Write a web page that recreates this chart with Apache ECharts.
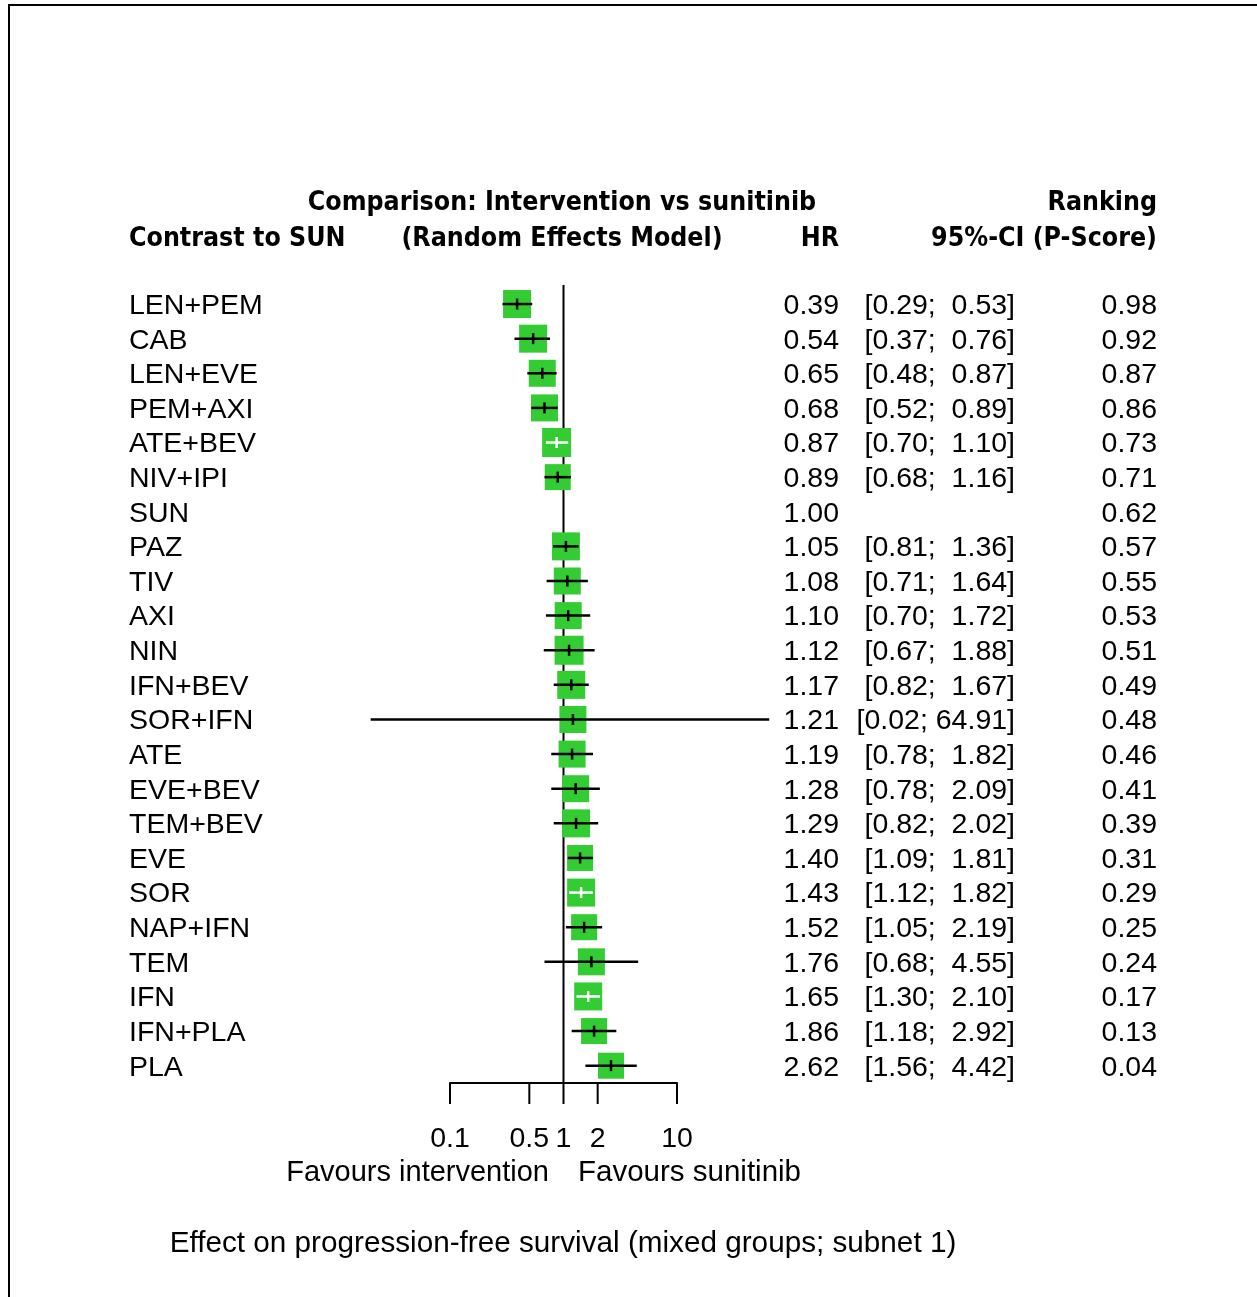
<!DOCTYPE html>
<html>
<head>
<meta charset="utf-8">
<script src="https://cdn.jsdelivr.net/npm/echarts@6/dist/echarts.min.js"></script>
<style>
  html, body { margin: 0; padding: 0; background: #fff; }
  #chart { width: 1257px; height: 1297px; }
</style>
</head>
<body>
<div id="chart"></div>
<script>
// Network meta-analysis: PFS hazard ratios of each treatment versus sunitinib
const treatments = ['LEN+PEM', 'CAB', 'LEN+EVE', 'PEM+AXI', 'ATE+BEV', 'NIV+IPI', 'SUN', 'PAZ', 'TIV', 'AXI',
  'NIN', 'IFN+BEV', 'SOR+IFN', 'ATE', 'EVE+BEV', 'TEM+BEV', 'EVE', 'SOR', 'NAP+IFN', 'TEM', 'IFN', 'IFN+PLA', 'PLA'];
const hazardRatio = [0.39, 0.54, 0.65, 0.68, 0.87, 0.89, 1.00, 1.05, 1.08, 1.10,
  1.12, 1.17, 1.21, 1.19, 1.28, 1.29, 1.40, 1.43, 1.52, 1.76, 1.65, 1.86, 2.62];
const ciLower = [0.29, 0.37, 0.48, 0.52, 0.70, 0.68, null, 0.81, 0.71, 0.70,
  0.67, 0.82, 0.02, 0.78, 0.78, 0.82, 1.09, 1.12, 1.05, 0.68, 1.30, 1.18, 1.56];
const ciUpper = [0.53, 0.76, 0.87, 0.89, 1.10, 1.16, null, 1.36, 1.64, 1.72,
  1.88, 1.67, 64.91, 1.82, 2.09, 2.02, 1.81, 1.82, 2.19, 4.55, 2.10, 2.92, 4.42];
const pScore = [0.98, 0.92, 0.87, 0.86, 0.73, 0.71, 0.62, 0.57, 0.55, 0.53,
  0.51, 0.49, 0.48, 0.46, 0.41, 0.39, 0.31, 0.29, 0.25, 0.24, 0.17, 0.13, 0.04];
// relative weight of each comparison (square size)
const weights = [28, 28, 27, 27, 29, 26, null, 28, 27, 27,
  29, 28, 27, 27, 27, 28, 26, 28, 26, 27, 28, 26, 26];
// comparisons whose interval lies entirely inside the square
const ciInsideSquare = ['ATE+BEV', 'SOR', 'IFN'];
const axisTicks = [0.1, 0.5, 1, 2, 10];

const FONT = '"Liberation Sans", Arial, sans-serif';
const HEAD_FONT = '"DejaVu Sans Condensed", "Liberation Sans", sans-serif';
const HEAD = 'bold 26.5px ' + HEAD_FONT;
const BODY_SIZE = 28.5;
const GREEN = '#33cc33';

const fmt = v => v.toFixed(2);
const upperWidth = Math.max(...ciUpper.filter(v => v != null).map(v => fmt(v).length));
const ciText = i => {
  if (ciLower[i] == null) return '';
  let hi = fmt(ciUpper[i]);
  while (hi.length < upperWidth) hi = ' ' + hi;
  return '[' + fmt(ciLower[i]) + '; ' + hi + ']';
};

const forestData = [];
treatments.forEach((t, i) => {
  if (ciLower[i] == null) return;
  forestData.push([hazardRatio[i], i, ciLower[i], ciUpper[i], weights[i], ciInsideSquare.includes(t) ? 1 : 0]);
});
const rowData = treatments.map((t, i) => [1, i]);

const chart = echarts.init(document.getElementById('chart'), null, { renderer: 'canvas' });

const option = {
  backgroundColor: '#fff',
  animation: false,
  grid: { left: 450, width: 227, top: 285, height: 798, containLabel: false },
  xAxis: {
    type: 'log', logBase: 10, min: 0.1, max: 10, position: 'bottom',
    axisLine: { show: true, onZero: false, lineStyle: { color: '#000', width: 2 } },
    axisTick: { show: false }, axisLabel: { show: false }, splitLine: { show: false }
  },
  yAxis: {
    type: 'value', min: -0.55, max: 22.5, inverse: true, show: false
  },
  graphic: [
    { type: 'rect', shape: { x: 9, y: 5, width: 1400, height: 1400 }, style: { fill: null, stroke: '#000', lineWidth: 2 }, silent: true },
    { type: 'text', x: 562, y: 203, style: { text: 'Comparison: Intervention vs sunitinib', font: HEAD, fill: '#000', align: 'center', verticalAlign: 'middle' } },
    { type: 'text', x: 129, y: 239, style: { text: 'Contrast to SUN', font: HEAD, fill: '#000', align: 'left', verticalAlign: 'middle' } },
    { type: 'text', x: 562, y: 239, style: { text: '(Random Effects Model)', font: HEAD, fill: '#000', align: 'center', verticalAlign: 'middle' } },
    { type: 'text', x: 839, y: 239, style: { text: 'HR', font: HEAD, fill: '#000', align: 'right', verticalAlign: 'middle' } },
    { type: 'text', x: 1157, y: 203, style: { text: 'Ranking', font: HEAD, fill: '#000', align: 'right', verticalAlign: 'middle' } },
    { type: 'text', x: 1157, y: 239, style: { text: '95%-CI (P-Score)', font: HEAD, fill: '#000', align: 'right', verticalAlign: 'middle' } },
    { type: 'text', x: 549, y: 1173, style: { text: 'Favours intervention', font: '29px ' + FONT, fill: '#000', align: 'right', verticalAlign: 'middle' } },
    { type: 'text', x: 578, y: 1173, style: { text: 'Favours sunitinib', font: '29.5px ' + FONT, fill: '#000', align: 'left', verticalAlign: 'middle' } },
    { type: 'text', x: 563, y: 1244, style: { text: 'Effect on progression-free survival (mixed groups; subnet 1)', font: '29.7px ' + FONT, fill: '#000', align: 'center', verticalAlign: 'middle' } }
  ],
  series: [
    {
      // line of no effect at HR = 1
      type: 'custom', coordinateSystem: 'cartesian2d', clip: false, silent: true,
      data: [[1, -0.55, 22.5]],
      renderItem: (params, api) => {
        const a = api.coord([api.value(0), api.value(1)]);
        const b = api.coord([api.value(0), api.value(2)]);
        return { type: 'line', shape: { x1: a[0], y1: a[1], x2: b[0], y2: b[1] }, style: { stroke: '#000', lineWidth: 2 } };
      }
    },
    {
      // squares, confidence intervals and point estimates
      type: 'custom', coordinateSystem: 'cartesian2d', clip: false, silent: true,
      data: forestData,
      renderItem: (params, api) => {
        const est = api.coord([api.value(0), api.value(1)]);
        const lo = api.coord([api.value(2), api.value(1)]);
        const hi = api.coord([api.value(3), api.value(1)]);
        const size = api.value(4);
        const lineColor = api.value(5) ? '#fff' : '#000';
        return {
          type: 'group',
          children: [
            { type: 'rect', shape: { x: est[0] - size / 2, y: est[1] - size / 2, width: size, height: size }, style: { fill: GREEN, stroke: null } },
            { type: 'line', shape: { x1: lo[0], y1: est[1], x2: hi[0], y2: est[1] }, style: { stroke: lineColor, lineWidth: 2.5 } },
            { type: 'line', shape: { x1: est[0], y1: est[1] - 5.5, x2: est[0], y2: est[1] + 5.5 }, style: { stroke: lineColor, lineWidth: 2.5 } }
          ]
        };
      }
    },
    {
      // axis ticks and their labels
      type: 'custom', coordinateSystem: 'cartesian2d', clip: false, silent: true,
      data: axisTicks.map(v => [v, 22.5]),
      renderItem: (params, api) => {
        const p = api.coord([api.value(0), api.value(1)]);
        const v = api.value(0);
        return {
          type: 'group',
          children: [
            { type: 'line', shape: { x1: p[0], y1: p[1], x2: p[0], y2: p[1] + 21 }, style: { stroke: '#000', lineWidth: 2 } },
            { type: 'text', x: p[0], y: p[1] + 56, style: { text: String(v), font: BODY_SIZE + 'px ' + FONT, fill: '#000', align: 'center', verticalAlign: 'middle' } }
          ]
        };
      }
    },
    {
      // text columns: treatment, HR, 95%-CI, P-score
      type: 'custom', coordinateSystem: 'cartesian2d', clip: false, silent: true,
      data: rowData,
      renderItem: (params, api) => {
        const i = params.dataIndex;
        const y = api.coord([1, api.value(1)])[1] + 2;
        const font = BODY_SIZE + 'px ' + FONT;
        const txt = (x, s, align) => ({ type: 'text', x: x, y: y, style: { text: s, font: font, fill: '#000', align: align, verticalAlign: 'middle' } });
        return {
          type: 'group',
          children: [
            txt(129, treatments[i], 'left'),
            txt(839, fmt(hazardRatio[i]), 'right'),
            txt(1015, ciText(i), 'right'),
            txt(1157, fmt(pScore[i]), 'right')
          ]
        };
      }
    }
  ]
};

chart.setOption(option);
</script>
</body>
</html>
